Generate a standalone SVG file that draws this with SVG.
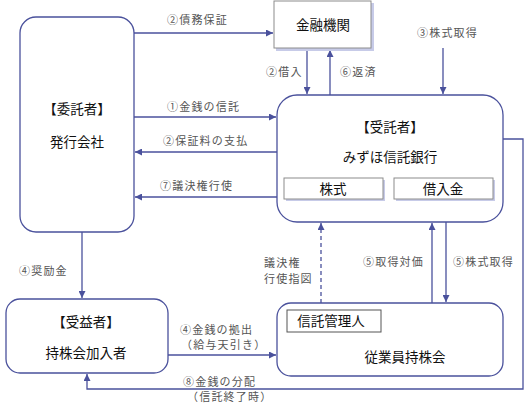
<svg xmlns="http://www.w3.org/2000/svg" width="528" height="412" viewBox="0 0 528 412">
<style>
.node{fill:#fff;stroke:#4a519c;stroke-width:1.3}
.gbox{fill:#fff;stroke:#8c8c8c;stroke-width:1}
.shadow{fill:#c7cbe8}
.t{font-family:"Noto Sans CJK JP","Noto Sans CJK SC",sans-serif;font-size:13.5px;fill:#111;text-anchor:middle}
.l{font-family:"Noto Sans CJK JP","Noto Sans CJK SC",sans-serif;font-size:11px;fill:#555;letter-spacing:1.2px}
.c{fill:none;stroke:#4a519c;stroke-width:1.3}
.d{stroke-dasharray:4 3}
</style>
<defs>
<marker id="ah" viewBox="0 0 10 10" refX="10" refY="5" markerWidth="7" markerHeight="7" markerUnits="userSpaceOnUse" orient="auto">
<path d="M0,0 L10,5 L0,10 z" fill="#4a519c"/>
</marker>
</defs>
<rect width="528" height="412" fill="#fff"/>
<g id="connectors">
<line class="c" x1="134" y1="33" x2="273" y2="33" marker-end="url(#ah)"/>
<text class="l" x="167" y="24">②債務保証</text>
<line class="c" x1="134" y1="117" x2="276" y2="117" marker-end="url(#ah)"/>
<text class="l" x="167" y="111">①金銭の信託</text>
<line class="c" x1="277" y1="152" x2="135" y2="152" marker-end="url(#ah)"/>
<text class="l" x="163" y="145">②保証料の支払</text>
<line class="c" x1="277" y1="197" x2="135" y2="197" marker-end="url(#ah)"/>
<text class="l" x="160" y="190">⑦議決権行使</text>
<line class="c" x1="307" y1="49" x2="307" y2="94" marker-end="url(#ah)"/>
<text class="l" x="266" y="76">②借入</text>
<line class="c" x1="330" y1="95" x2="330" y2="50" marker-end="url(#ah)"/>
<text class="l" x="340" y="76">⑥返済</text>
<line class="c" x1="443" y1="48" x2="443" y2="94" marker-end="url(#ah)"/>
<text class="l" x="417" y="37">③株式取得</text>
<polyline class="c" points="503,139 523,139 523,389 87,389 87,374" marker-end="url(#ah)"/>
<text class="l" x="183" y="386">⑧金銭の分配</text>
<text class="l" x="187" y="401">（信託終了時）</text>
<line class="c" x1="82" y1="232" x2="82" y2="298" marker-end="url(#ah)"/>
<text class="l" x="19" y="275">④奨励金</text>
<line class="c" x1="168" y1="355" x2="276" y2="355" marker-end="url(#ah)"/>
<text class="l" x="180" y="334">④金銭の拠出</text>
<text class="l" x="181" y="349">（給与天引き）</text>
<line class="c d" x1="321" y1="310" x2="321" y2="223" marker-end="url(#ah)"/>
<text class="l" x="264" y="267">議決権</text>
<text class="l" x="264" y="283">行使指図</text>
<line class="c" x1="432" y1="303" x2="432" y2="223" marker-end="url(#ah)"/>
<text class="l" x="363" y="266">⑤取得対価</text>
<line class="c" x1="446" y1="222" x2="446" y2="302" marker-end="url(#ah)"/>
<text class="l" x="453" y="266">⑤株式取得</text>
</g>
<g id="issuer">
<rect class="node" x="20" y="17" width="114" height="215" rx="16"/>
<text class="t" x="77" y="114">【委託者】</text>
<text class="t" x="77" y="147">発行会社</text>
</g>
<g id="bank">
<rect class="shadow" x="276" y="3" width="98" height="48"/>
<rect class="gbox" x="274" y="1" width="97" height="47"/>
<text class="t" x="323" y="30">金融機関</text>
</g>
<g id="trustee">
<rect class="node" x="277" y="95" width="226" height="127" rx="20"/>
<text class="t" x="390" y="132">【受託者】</text>
<text class="t" x="390" y="162">みずほ信託銀行</text>
<g id="stock">
<rect class="shadow" x="286" y="180" width="99" height="21"/>
<rect class="gbox" x="284" y="178" width="99" height="21"/>
<text class="t" x="333" y="194">株式</text>
</g>
<g id="loan">
<rect class="shadow" x="396" y="180" width="99" height="21"/>
<rect class="gbox" x="394" y="178" width="99" height="21"/>
<text class="t" x="443" y="194">借入金</text>
</g>
</g>
<g id="beneficiary">
<rect class="node" x="6" y="299" width="162" height="74" rx="14"/>
<text class="t" x="86" y="327">【受益者】</text>
<text class="t" x="86" y="358">持株会加入者</text>
</g>
<g id="esop">
<rect class="node" x="277" y="303" width="226" height="73" rx="14"/>
<text class="t" x="405" y="362">従業員持株会</text>
<g id="administrator">
<rect fill="#fff" stroke="#555" stroke-width="1" x="287" y="310" width="94" height="22"/>
<text class="t" x="331" y="326">信託管理人</text>
</g>
</g>
</svg>
